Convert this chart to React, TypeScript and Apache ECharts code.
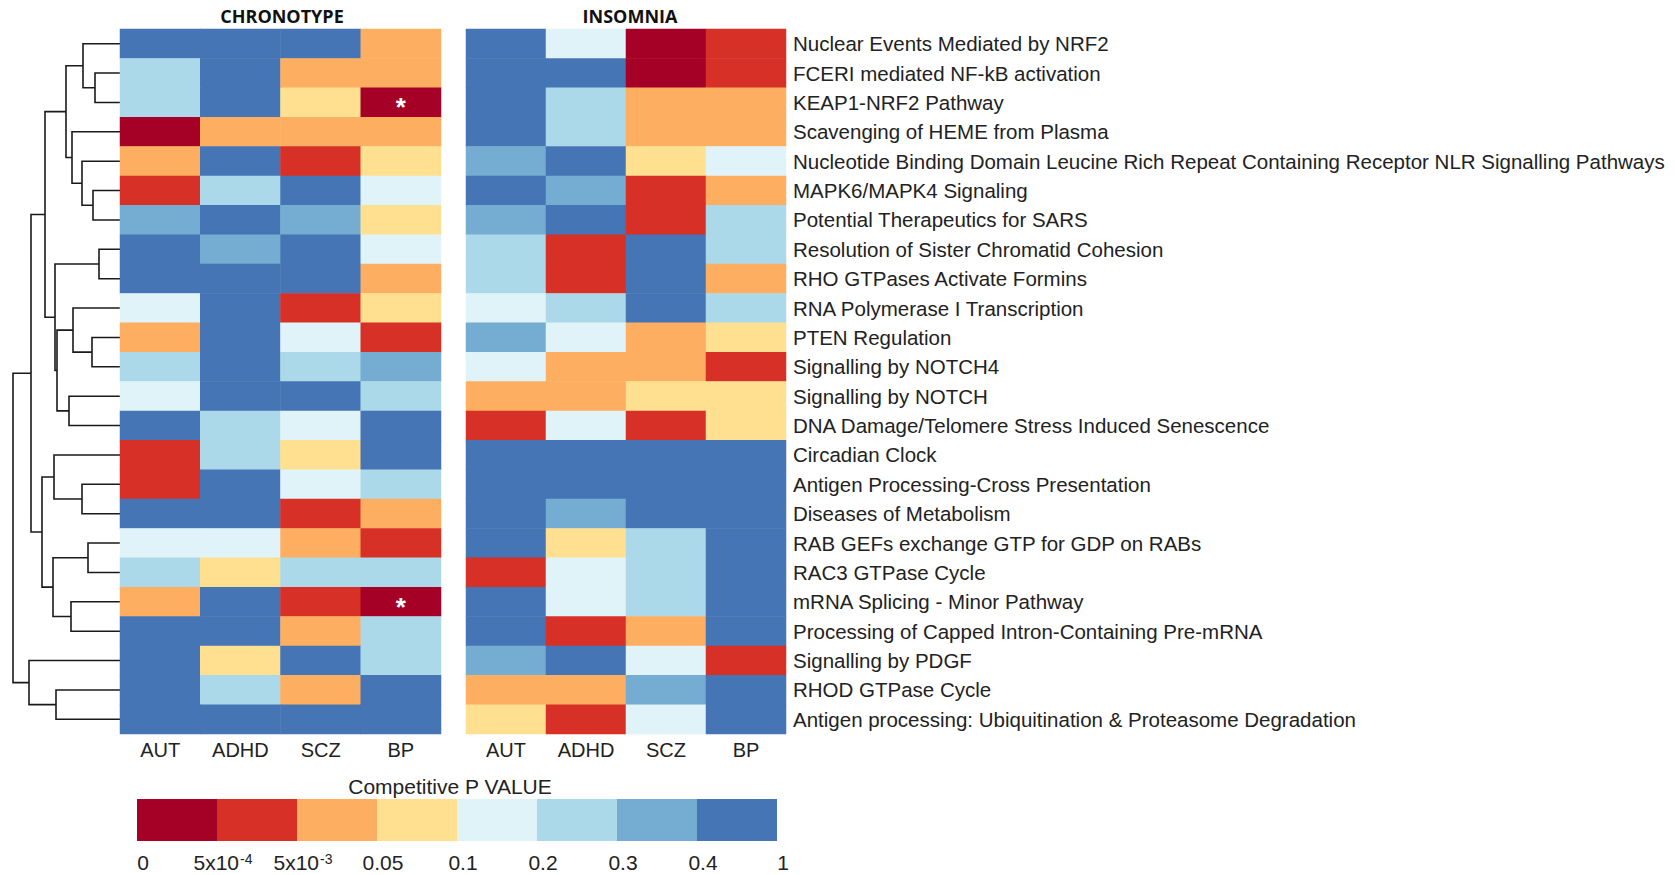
import React, { useEffect, useRef } from 'react';
import * as echarts from 'echarts';

// ---------- DATA ----------
const diseases = ['AUT', 'ADHD', 'SCZ', 'BP'];

const pathways = [
  'Nuclear Events Mediated by NRF2',
  'FCERI mediated NF-kB activation',
  'KEAP1-NRF2 Pathway',
  'Scavenging of HEME from Plasma',
  'Nucleotide Binding Domain Leucine Rich Repeat Containing Receptor NLR Signalling Pathways',
  'MAPK6/MAPK4 Signaling',
  'Potential Therapeutics for SARS',
  'Resolution of Sister Chromatid Cohesion',
  'RHO GTPases Activate Formins',
  'RNA Polymerase I Transcription',
  'PTEN Regulation',
  'Signalling by NOTCH4',
  'Signalling by NOTCH',
  'DNA Damage/Telomere Stress Induced Senescence',
  'Circadian Clock',
  'Antigen Processing-Cross Presentation',
  'Diseases of Metabolism',
  'RAB GEFs exchange GTP for GDP on RABs',
  'RAC3 GTPase Cycle',
  'mRNA Splicing - Minor Pathway',
  'Processing of Capped Intron-Containing Pre-mRNA',
  'Signalling by PDGF',
  'RHOD GTPase Cycle',
  'Antigen processing: Ubiquitination & Proteasome Degradation',
];

// P-value bin index per cell (0 = [0,5e-4) ... 7 = [0.4,1]); columns AUT, ADHD, SCZ, BP
const chronotypeBins = [
  [7, 7, 7, 2],
  [5, 7, 2, 2],
  [5, 7, 3, 0],
  [0, 2, 2, 2],
  [2, 7, 1, 3],
  [1, 5, 7, 4],
  [6, 7, 6, 3],
  [7, 6, 7, 4],
  [7, 7, 7, 2],
  [4, 7, 1, 3],
  [2, 7, 4, 1],
  [5, 7, 5, 6],
  [4, 7, 7, 5],
  [7, 5, 4, 7],
  [1, 5, 3, 7],
  [1, 7, 4, 5],
  [7, 7, 1, 2],
  [4, 4, 2, 1],
  [5, 3, 5, 5],
  [2, 7, 1, 0],
  [7, 7, 2, 5],
  [7, 3, 7, 5],
  [7, 5, 2, 7],
  [7, 7, 7, 7],
];

const insomniaBins = [
  [7, 4, 0, 1],
  [7, 7, 0, 1],
  [7, 5, 2, 2],
  [7, 5, 2, 2],
  [6, 7, 3, 4],
  [7, 6, 1, 2],
  [6, 7, 1, 5],
  [5, 1, 7, 5],
  [5, 1, 7, 2],
  [4, 5, 7, 5],
  [6, 4, 2, 3],
  [4, 2, 2, 1],
  [2, 2, 3, 3],
  [1, 4, 1, 3],
  [7, 7, 7, 7],
  [7, 7, 7, 7],
  [7, 6, 7, 7],
  [7, 3, 5, 7],
  [1, 4, 5, 7],
  [7, 4, 5, 7],
  [7, 1, 2, 7],
  [6, 7, 4, 1],
  [2, 2, 6, 7],
  [3, 1, 4, 7],
];

// significant cells in chronotype panel: [column, row]
const chronotypeStars = [
  [3, 2],
  [3, 19],
];

// legend bin boundaries
const binTicks = ['0', '5x10^-4', '5x10^-3', '0.05', '0.1', '0.2', '0.3', '0.4', '1'];
const binIndices = [0, 1, 2, 3, 4, 5, 6, 7];

// dendrogram merges: [childA, childB, height]; leaves 0..23, merge k gets id 24+k
const dendroMerges = [
  [1, 2, 2.5],
  [0, 24, 3.7],
  [5, 6, 2.7],
  [4, 26, 3.8],
  [3, 27, 4.8],
  [25, 28, 5.4],
  [7, 8, 2.1],
  [10, 11, 2.8],
  [9, 31, 4.7],
  [12, 13, 5.1],
  [32, 33, 6.3],
  [30, 34, 6.5],
  [29, 35, 7.5],
  [15, 16, 3.8],
  [14, 37, 6.6],
  [17, 18, 3.2],
  [19, 20, 4.9],
  [39, 40, 6.7],
  [38, 41, 7.8],
  [36, 42, 8.9],
  [22, 23, 6.4],
  [21, 44, 9.1],
  [43, 45, 10.7],
];

// ---------- STYLE ----------
const palette = ['#A50026', '#D73027', '#FDAE61', '#FEE090', '#E0F3F8', '#ABD9E9', '#74ADD1', '#4575B4'];
const FONT = '"Liberation Sans", Arial, sans-serif';
const TEXT = '#222';

function buildDendroLines() {
  const n = pathways.length;
  const pos: number[] = [];
  const hgt: number[] = [];
  for (let i = 0; i < n; i++) {
    pos.push(i + 0.5);
    hgt.push(0);
  }
  const lines: any[] = [];
  dendroMerges.forEach(([a, b, h]) => {
    lines.push({
      coords: [
        [hgt[a], pos[a]],
        [h, pos[a]],
        [h, pos[b]],
        [hgt[b], pos[b]],
      ],
    });
    pos.push((pos[a] + pos[b]) / 2);
    hgt.push(h);
  });
  return lines;
}

function heatData(bins: number[][]) {
  const out: any[] = [];
  bins.forEach((row, r) => row.forEach((v, c) => out.push([c, r, v])));
  return out;
}

function tickText(t: string) {
  const m = t.match(/^(.*)\^(.*)$/);
  return m ? `${m[1]}{sup|${m[2]}}` : t;
}

export default function App() {
  const ref = useRef<HTMLDivElement>(null);

  useEffect(() => {
    if (!ref.current) return;
    const chart = echarts.init(ref.current, undefined, { renderer: 'svg' });
    const rootHeight = Math.max(...dendroMerges.map((m) => m[2]));
    const starSet = new Set(chronotypeStars.map(([c, r]) => `${c}-${r}`));

    const gridTop = 29;
    const gridH = 705;

    const option: any = {
      animation: false,
      backgroundColor: '#fff',
      grid: [
        { left: 13, top: gridTop, width: 107, height: gridH },
        { left: 120, top: gridTop, width: 321, height: gridH },
        { left: 466, top: gridTop, width: 320, height: gridH },
        { left: 137, top: 799, width: 640, height: 42 },
      ],
      xAxis: [
        { gridIndex: 0, type: 'value', min: 0, max: rootHeight, inverse: true, show: false },
        {
          gridIndex: 1,
          type: 'category',
          data: diseases,
          axisLine: { show: false },
          axisTick: { show: false },
          axisLabel: { fontFamily: FONT, fontSize: 20, color: TEXT, margin: 6 },
        },
        {
          gridIndex: 2,
          type: 'category',
          data: diseases,
          axisLine: { show: false },
          axisTick: { show: false },
          axisLabel: { fontFamily: FONT, fontSize: 20, color: TEXT, margin: 6 },
        },
        {
          gridIndex: 3,
          type: 'value',
          min: 0,
          max: binIndices.length,
          interval: 1,
          axisLine: { show: false },
          axisTick: { show: false },
          splitLine: { show: false },
          axisLabel: {
            fontFamily: FONT,
            fontSize: 21,
            color: TEXT,
            margin: 11,
            padding: [0, 0, 0, 12],
            formatter: (v: number) => tickText(binTicks[Math.round(v)] ?? ''),
            rich: {
              sup: { fontFamily: FONT, fontSize: 14, color: TEXT, verticalAlign: 'top', padding: [0, 0, 0, 1] },
            },
          },
        },
      ],
      yAxis: [
        { gridIndex: 0, type: 'value', min: 0, max: pathways.length, inverse: true, show: false },
        {
          gridIndex: 1,
          type: 'category',
          data: pathways,
          inverse: true,
          axisLine: { show: false },
          axisTick: { show: false },
          axisLabel: { show: false },
        },
        {
          gridIndex: 2,
          type: 'category',
          data: pathways,
          inverse: true,
          position: 'right',
          axisLine: { show: false },
          axisTick: { show: false },
          axisLabel: { fontFamily: FONT, fontSize: 20.5, color: TEXT, margin: 7 },
        },
        { gridIndex: 3, type: 'value', min: 0, max: 1, show: false },
      ],
      visualMap: {
        type: 'piecewise',
        show: false,
        seriesIndex: [1, 2],
        dimension: 2,
        pieces: palette.map((c, i) => ({ value: i, color: c })),
      },
      series: [
        {
          type: 'lines',
          coordinateSystem: 'cartesian2d',
          xAxisIndex: 0,
          yAxisIndex: 0,
          polyline: true,
          silent: true,
          lineStyle: { color: '#1a1a1a', width: 1.6, opacity: 1 },
          data: buildDendroLines(),
        },
        {
          type: 'heatmap',
          xAxisIndex: 1,
          yAxisIndex: 1,
          data: heatData(chronotypeBins),
          label: {
            show: true,
            color: '#fff',
            fontSize: 26,
            fontFamily: FONT,
            fontWeight: 'bold',
            offset: [0, 5],
            formatter: (p: any) => (starSet.has(`${p.data[0]}-${p.data[1]}`) ? '*' : ''),
          },
          emphasis: { disabled: true },
        },
        {
          type: 'heatmap',
          xAxisIndex: 2,
          yAxisIndex: 2,
          data: heatData(insomniaBins),
          emphasis: { disabled: true },
        },
        {
          type: 'custom',
          xAxisIndex: 3,
          yAxisIndex: 3,
          silent: true,
          data: binIndices.map((i) => [i]),
          renderItem: (params: any, api: any) => {
            const i = api.value(0);
            const p0 = api.coord([i, 1]);
            const p1 = api.coord([i + 1, 0]);
            return {
              type: 'rect',
              shape: { x: p0[0], y: p0[1], width: p1[0] - p0[0], height: p1[1] - p0[1] },
              style: { fill: palette[i] },
            };
          },
        },
      ],
      graphic: [
        {
          type: 'text',
          x: 282,
          y: 16,
          style: {
            text: 'CHRONOTYPE',
            fontFamily: '"Open Sans", sans-serif',
            fontWeight: 'bold',
            fontSize: 18,
            fill: '#111',
            textAlign: 'center',
            textVerticalAlign: 'middle',
          },
        },
        {
          type: 'text',
          x: 630,
          y: 16,
          style: {
            text: 'INSOMNIA',
            fontFamily: '"Open Sans", sans-serif',
            fontWeight: 'bold',
            fontSize: 18,
            fill: '#111',
            textAlign: 'center',
            textVerticalAlign: 'middle',
          },
        },
        {
          type: 'text',
          x: 450,
          y: 786,
          style: {
            text: 'Competitive P VALUE',
            fontFamily: FONT,
            fontSize: 21,
            fill: TEXT,
            textAlign: 'center',
            textVerticalAlign: 'middle',
          },
        },
      ],
    };

    chart.setOption(option);
    return () => chart.dispose();
  }, []);

  return (
    <div
      ref={ref}
      style={{ position: 'fixed', left: 0, top: 0, width: 1675, height: 875, background: '#fff' }}
    />
  );
}
